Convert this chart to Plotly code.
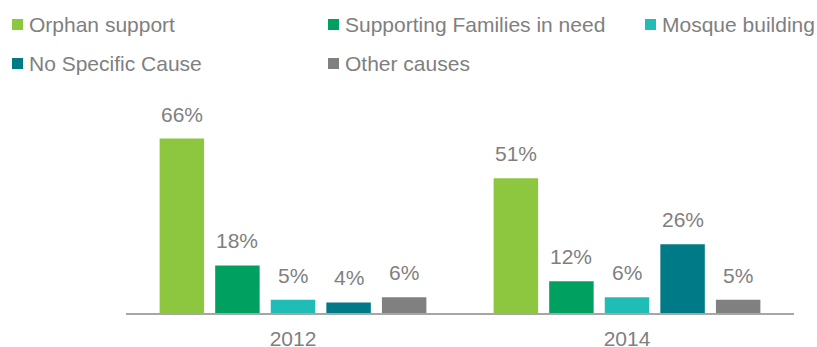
import plotly.graph_objects as go

# ---- data ----
categories = ["2012", "2014"]
series_names = ["Orphan support", "Supporting Families in need", "Mosque building",
                "No Specific Cause", "Other causes"]
orphan_support = [66, 51]
supporting_families = [18, 12]
mosque_building = [5, 6]
no_specific_cause = [4, 26]
other_causes = [6, 5]
series_values = [orphan_support, supporting_families, mosque_building,
                 no_specific_cause, other_causes]
colors = ["#8DC63F", "#00A160", "#20BDB7", "#007A87", "#808080"]

# ---- layout constants ----
W, H = 817, 347
ML, MR, MT, MB = 126, 23, 128, 34
PW, PH = W - ML - MR, H - MT - MB
BARGAP, BARGROUPGAP = 0.168, 0.2
FONT = "Liberation Sans, Arial, sans-serif"
TXT = "#7F7F7F"
FS = 21

fig = go.Figure()
for name, vals, col in zip(series_names, series_values, colors):
    fig.add_trace(go.Bar(x=categories, y=vals, name=name, marker_color=col,
                         marker_line_width=0, showlegend=False, hoverinfo="x+y+name"))

# value labels above bars (x given as category index on the category axis)
pitch = (PW / len(categories)) * (1 - BARGAP) / len(series_names)
annotations = []
n = len(series_names)
for i, vals in enumerate(series_values):
    for j, v in enumerate(vals):
        annotations.append(dict(x=j, y=v, xref="x", yref="y", text=f"{v}%",
                                showarrow=False, yanchor="bottom", xanchor="center",
                                xshift=(i - (n - 1) / 2) * pitch, yshift=11,
                                font=dict(family=FONT, size=FS, color=TXT)))

# manual legend (squares + text), two rows
def px_x(px):
    return (px - ML) / PW

def px_y(py):
    return (H - MB - py) / PH

legend_cols = [12, 328, 645]
legend_rows = [24.5, 63.5]
SQ = 11
shapes = []
for k, (name, col) in enumerate(zip(series_names, colors)):
    r, c = divmod(k, 3)
    x0 = legend_cols[c]
    yc = legend_rows[r]
    shapes.append(dict(type="rect", xref="paper", yref="paper",
                       x0=px_x(x0), x1=px_x(x0 + SQ),
                       y0=px_y(yc + SQ / 2), y1=px_y(yc - SQ / 2),
                       fillcolor=col, line_width=0))
    annotations.append(dict(x=px_x(x0 + SQ + 4), y=px_y(yc), xref="paper", yref="paper",
                            text=name, showarrow=False, xanchor="left", yanchor="middle",
                            font=dict(family=FONT, size=FS, color=TXT)))

fig.update_layout(
    width=W, height=H,
    margin=dict(l=ML, r=MR, t=MT, b=MB, pad=0, autoexpand=False),
    barmode="group", bargap=BARGAP, bargroupgap=BARGROUPGAP,
    plot_bgcolor="white", paper_bgcolor="white",
    font=dict(family=FONT, size=FS, color=TXT),
    annotations=annotations, shapes=shapes,
    showlegend=False,
)
fig.update_xaxes(type="category", range=[-0.5, len(categories) - 0.5], automargin=False,
                 showline=True, linecolor="#A6A6A6", linewidth=2, ticks="", showgrid=False,
                 ticklabelstandoff=6,
                 tickfont=dict(family=FONT, size=FS, color=TXT))
fig.update_yaxes(range=[0, 70], visible=False, showgrid=False, zeroline=False,
                 automargin=False)

fig.write_html("out.html", config={"displayModeBar": False},
               post_script="document.body.style.margin='0';document.body.style.padding='0';")
